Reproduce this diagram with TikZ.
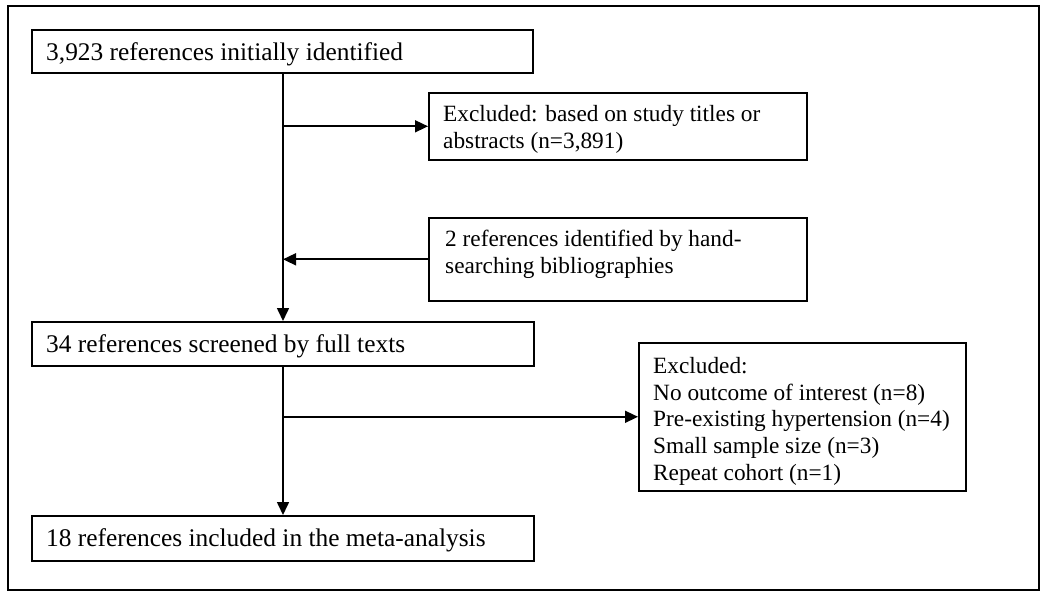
\documentclass[tikz,border=0pt]{standalone}
\usepackage{fontspec}
\setmainfont{Liberation Serif}
\usetikzlibrary{arrows.meta}
\begin{document}
\begin{tikzpicture}[x=1pt,y=-1pt,
  box/.style={draw, line width=1.6pt, inner sep=0pt, anchor=north west},
  bigtxt/.style={inner sep=0pt, anchor=north west, align=left,
    font=\fontsize{25.4}{26.8}\selectfont},
  smalltxt/.style={inner sep=0pt, anchor=north west, align=left,
    font=\fontsize{23.3}{26.8}\selectfont},
  arr/.style={line width=1.6pt, -{Triangle[length=13pt,width=12pt]}}]
\useasboundingbox (0,0) rectangle (1050,604);
\draw[line width=2.2pt] (8,6) rectangle (1039,590);
\coordinate (vx) at (283,0);
% boxes
\node[box, minimum width=501pt, minimum height=43pt] (box1) at (31,29) {};
\node[box, minimum width=378pt, minimum height=67pt] (box2) at (428,92) {};
\node[box, minimum width=378pt, minimum height=83pt] (box3) at (428,217) {};
\node[box, minimum width=502pt, minimum height=44pt] (box4) at (31,321) {};
\node[box, minimum width=327pt, minimum height=148pt] (box6) at (638,342) {};
\node[box, minimum width=502pt, minimum height=45pt] (box5) at (31,515) {};
% texts
\node[bigtxt] (t1) at ([xshift=15pt,yshift=-13pt]box1.north west)
  {3,923 references initially identified};
\node[smalltxt] (t2) at ([xshift=15pt,yshift=-13pt]box2.north west)
  {Excluded: based on study titles or\\abstracts (n=3,891)};
\node[smalltxt] (t3) at ([xshift=17pt,yshift=-13pt]box3.north west)
  {2 references identified by hand-\\searching bibliographies};
\node[bigtxt] (t4) at ([xshift=15pt,yshift=-13pt]box4.north west)
  {34 references screened by full texts};
\node[smalltxt] (t6) at ([xshift=15pt,yshift=-15pt]box6.north west)
  {Excluded:\\No outcome of interest (n=8)\\Pre-existing hypertension (n=4)\\Small sample size (n=3)\\Repeat cohort (n=1)};
\node[bigtxt] (t5) at ([xshift=15pt,yshift=-13pt]box5.north west)
  {18 references included in the meta-analysis};
% connectors
\draw[arr] (box1.south -| vx) -- (box4.north -| vx);
\draw[arr] (box2.west -| vx) -- (box2.west);
\draw[arr] (box3.west) -- (box3.west -| vx);
\draw[arr] (box4.south -| vx) -- (box5.north -| vx);
\draw[arr] (box6.west -| vx) -- (box6.west);
\end{tikzpicture}
\end{document}
